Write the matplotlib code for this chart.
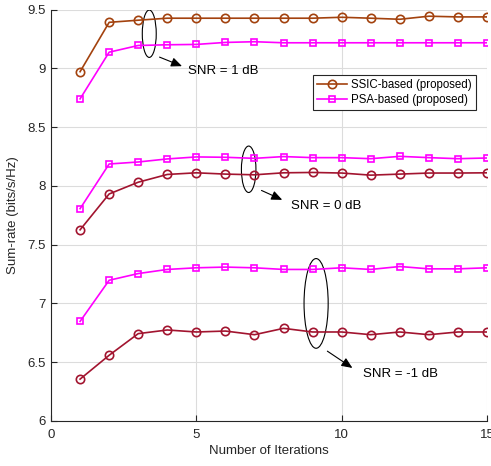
import matplotlib
matplotlib.use("Agg")
import matplotlib.pyplot as plt
from matplotlib.patches import Ellipse

plt.rcParams['font.family'] = ['Liberation Sans', 'DejaVu Sans']

iters = list(range(1, 16))

ssic_1db = [8.971, 9.391, 9.409, 9.426, 9.426, 9.426, 9.426, 9.426, 9.426, 9.434, 9.426, 9.417, 9.443, 9.437, 9.437]
psa_1db = [8.740, 9.137, 9.194, 9.200, 9.203, 9.220, 9.226, 9.217, 9.217, 9.217, 9.217, 9.217, 9.217, 9.217, 9.217]
psa_0db = [7.806, 8.186, 8.203, 8.229, 8.246, 8.243, 8.234, 8.249, 8.240, 8.240, 8.231, 8.251, 8.240, 8.231, 8.237]
ssic_0db = [7.626, 7.931, 8.031, 8.097, 8.111, 8.100, 8.094, 8.111, 8.114, 8.109, 8.091, 8.100, 8.109, 8.109, 8.111]
psa_m1db = [6.847, 7.197, 7.254, 7.289, 7.303, 7.309, 7.303, 7.289, 7.289, 7.303, 7.289, 7.314, 7.294, 7.294, 7.303]
ssic_m1db = [6.356, 6.559, 6.743, 6.774, 6.757, 6.765, 6.734, 6.788, 6.757, 6.757, 6.734, 6.757, 6.734, 6.757, 6.757]

x_ticks = [0, 5, 10, 15]
y_ticks = [6, 6.5, 7, 7.5, 8, 8.5, 9, 9.5]
y_tick_labels = ['6', '6.5', '7', '7.5', '8', '8.5', '9', '9.5']

c_ssic1 = '#A3420E'
c_ssic = '#A2142F'
c_psa = '#FF00FF'

fig = plt.figure(figsize=(4.91, 4.66), dpi=100)
ax = fig.add_axes([0.1039, 0.0966, 0.8880, 0.8830])

lw = 1.2
ms_c = 6
ms_s = 5
mew = 1.2

ax.plot(iters, ssic_1db, '-o', color=c_ssic1, lw=lw, ms=ms_c, mfc='none', mew=mew,
        label='SSIC-based (proposed)')
ax.plot(iters, psa_1db, '-s', color=c_psa, lw=lw, ms=ms_s, mfc='none', mew=mew,
        label='PSA-based (proposed)')
ax.plot(iters, psa_0db, '-s', color=c_psa, lw=lw, ms=ms_s, mfc='none', mew=mew)
ax.plot(iters, ssic_0db, '-o', color=c_ssic, lw=lw, ms=ms_c, mfc='none', mew=mew)
ax.plot(iters, psa_m1db, '-s', color=c_psa, lw=lw, ms=ms_s, mfc='none', mew=mew)
ax.plot(iters, ssic_m1db, '-o', color=c_ssic, lw=lw, ms=ms_c, mfc='none', mew=mew)

ax.set_xlim(0, 15)
ax.set_ylim(6, 9.5)
ax.set_xticks(x_ticks)
ax.set_yticks(y_ticks)
ax.set_yticklabels(y_tick_labels)
ax.grid(True, color='#dcdcdc', lw=0.8)
ax.set_axisbelow(True)
for s in ['top', 'right']:
    ax.spines[s].set_visible(False)
for s in ['left', 'bottom']:
    ax.spines[s].set_color('#262626')
    ax.spines[s].set_linewidth(0.8)
ax.tick_params(direction='in', length=4, colors='#262626', labelsize=9.5, width=0.8)
ax.tick_params(axis='x', pad=6)
ax.set_xlabel('Number of Iterations', fontsize=9.5, color='#262626', labelpad=3)
ax.set_ylabel('Sum-rate (bits/s/Hz)', fontsize=9.5, color='#262626', labelpad=6)

leg = ax.legend(loc='upper right', bbox_to_anchor=(0.975, 0.842), fontsize=8.3,
                frameon=True, fancybox=False, edgecolor='#262626', framealpha=1,
                borderpad=0.35, handlelength=2.6, labelspacing=0.3, handletextpad=0.4,
                borderaxespad=0)
leg.get_frame().set_linewidth(0.8)

arrow_style = dict(arrowstyle='-|>,head_length=0.65,head_width=0.28', color='black', lw=0.8,
                   shrinkA=0, shrinkB=0)

# Annotations
ax.add_patch(Ellipse((3.38, 9.294), 0.48, 0.403, fill=False, ec='black', lw=0.8))
ax.annotate('', xy=(4.507, 9.018), xytext=(3.734, 9.095), arrowprops=arrow_style)
ax.text(4.714, 8.973, 'SNR = 1 dB', fontsize=9.5, va='center', ha='left')

ax.add_patch(Ellipse((6.80, 8.141), 0.50, 0.395, fill=False, ec='black', lw=0.8))
ax.annotate('', xy=(7.955, 7.881), xytext=(7.241, 7.961), arrowprops=arrow_style)
ax.text(8.266, 7.832, 'SNR = 0 dB', fontsize=9.5, va='center', ha='left')

ax.add_patch(Ellipse((9.12, 7.0), 0.83, 0.763, fill=False, ec='black', lw=0.8))
ax.annotate('', xy=(10.369, 6.451), xytext=(9.507, 6.594), arrowprops=arrow_style)
ax.text(10.734, 6.399, 'SNR = -1 dB', fontsize=9.5, va='center', ha='left')

fig.savefig('out.png', dpi=100)
